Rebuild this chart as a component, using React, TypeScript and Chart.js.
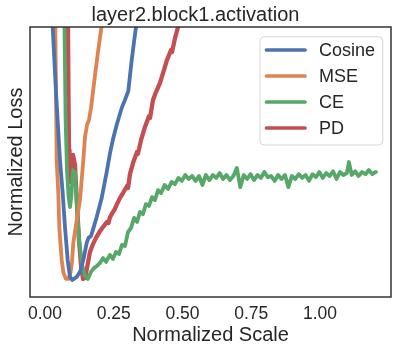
import { useEffect, useRef } from "react";
import { Chart, registerables } from "chart.js";

Chart.register(...registerables);

const chartTitle = "layer2.block1.activation";
const xAxisTitle = "Normalized Scale";
const yAxisTitle = "Normalized Loss";
const seriesNames = ["Cosine", "MSE", "CE", "PD"];
const seriesColors = ["#4C72B0", "#DD8452", "#55A868", "#C44E52"];
const xTickValues = [0, 0.25, 0.5, 0.75, 1.0];

const cosineX = [0.0036, 0.028, 0.040, 0.0545, 0.0644, 0.0727, 0.0825, 0.0909, 0.0993, 0.1153, 0.1273, 0.1393, 0.1516, 0.1582, 0.1673, 0.1764, 0.188, 0.2062, 0.2244, 0.2364, 0.2473, 0.2607, 0.2691, 0.2789, 0.2909, 0.3029, 0.3153, 0.3236, 0.3309, 0.3382];
const cosineY = [1.396, 1.0, 0.759, 0.507, 0.385, 0.259, 0.137, 0.074, 0.063, 0.074, 0.093, 0.137, 0.200, 0.219, 0.226, 0.256, 0.296, 0.367, 0.463, 0.533, 0.585, 0.637, 0.667, 0.700, 0.730, 0.763, 0.878, 0.944, 1.0, 1.070];

const mseX = [0.0345, 0.0375, 0.0425, 0.0484, 0.052, 0.0607, 0.0673, 0.0764, 0.0855, 0.0927, 0.0982, 0.1029, 0.1145, 0.1273, 0.1393, 0.1455, 0.1527, 0.160, 0.1673, 0.1745, 0.1818, 0.1927, 0.2062, 0.2145];
const mseY = [1.396, 1.007, 0.507, 0.385, 0.259, 0.137, 0.089, 0.067, 0.067, 0.089, 0.130, 0.200, 0.278, 0.359, 0.507, 0.593, 0.637, 0.656, 0.700, 0.759, 0.822, 0.907, 1.007, 1.070];

const ceX = [0.069, 0.0709, 0.075, 0.080, 0.086, 0.091, 0.096, 0.102, 0.109, 0.116, 0.124, 0.135, 0.145, 0.156, 0.167, 0.178, 0.189, 0.200, 0.211, 0.222, 0.236, 0.247, 0.258, 0.269, 0.280, 0.291, 0.302, 0.313, 0.324, 0.335, 0.345, 0.356, 0.367, 0.378, 0.389, 0.400, 0.411, 0.422, 0.435, 0.4475, 0.460, 0.4725, 0.485, 0.4975, 0.510, 0.5225, 0.535, 0.5475, 0.560, 0.5725, 0.585, 0.5975, 0.610, 0.6225, 0.635, 0.6475, 0.660, 0.6725, 0.685, 0.6975, 0.710, 0.7225, 0.735, 0.7475, 0.760, 0.7725, 0.785, 0.7975, 0.810, 0.8225, 0.835, 0.8475, 0.860, 0.8725, 0.885, 0.8975, 0.910, 0.9225, 0.935, 0.9475, 0.960, 0.9725, 0.985, 0.9975, 1.010, 1.0225, 1.035, 1.0475, 1.060, 1.0725, 1.085, 1.0975, 1.105, 1.115, 1.1275, 1.140, 1.1525, 1.165, 1.1775, 1.190, 1.203];
const ceY = [1.396, 1.0, 0.656, 0.470, 0.370, 0.333, 0.378, 0.470, 0.463, 0.341, 0.211, 0.119, 0.078, 0.067, 0.093, 0.107, 0.115, 0.126, 0.144, 0.130, 0.156, 0.141, 0.167, 0.159, 0.193, 0.189, 0.241, 0.256, 0.293, 0.278, 0.315, 0.307, 0.344, 0.337, 0.370, 0.359, 0.396, 0.385, 0.415, 0.400, 0.426, 0.418, 0.441, 0.430, 0.452, 0.437, 0.448, 0.430, 0.448, 0.415, 0.452, 0.433, 0.452, 0.441, 0.459, 0.437, 0.452, 0.433, 0.448, 0.478, 0.407, 0.452, 0.437, 0.455, 0.433, 0.452, 0.441, 0.463, 0.444, 0.448, 0.430, 0.452, 0.437, 0.452, 0.407, 0.448, 0.437, 0.455, 0.441, 0.452, 0.430, 0.455, 0.444, 0.463, 0.441, 0.459, 0.448, 0.466, 0.437, 0.463, 0.452, 0.459, 0.500, 0.452, 0.466, 0.448, 0.463, 0.455, 0.470, 0.455, 0.463];

const pdX = [0.080, 0.0836, 0.0855, 0.0873, 0.0891, 0.0945, 0.1018, 0.1091, 0.1164, 0.1236, 0.1309, 0.1382, 0.1455, 0.1527, 0.1636, 0.1745, 0.1855, 0.200, 0.2109, 0.2255, 0.231, 0.2364, 0.2473, 0.252, 0.2618, 0.2727, 0.2836, 0.2982, 0.302, 0.3091, 0.320, 0.3345, 0.338, 0.3491, 0.3636, 0.3782, 0.382, 0.3927, 0.4036, 0.4182, 0.4327, 0.4436, 0.4582, 0.462, 0.4727, 0.4836, 0.4982];
const pdY = [1.396, 1.0, 0.730, 0.544, 0.426, 0.463, 0.526, 0.489, 0.341, 0.211, 0.119, 0.067, 0.070, 0.107, 0.167, 0.196, 0.219, 0.244, 0.259, 0.278, 0.274, 0.296, 0.315, 0.322, 0.344, 0.367, 0.385, 0.411, 0.404, 0.456, 0.496, 0.537, 0.530, 0.581, 0.630, 0.670, 0.663, 0.730, 0.759, 0.793, 0.841, 0.878, 0.915, 0.907, 0.959, 1.0, 1.056];

const seriesX = [cosineX, mseX, ceX, pdX];
const seriesY = [cosineY, mseY, ceY, pdY];

const FONT = "'Liberation Sans', Arial, sans-serif";
const TEXT = "#262626";

const framePlugin = {
  id: "frame",
  afterDatasetsDraw(chart: any) {
    const { ctx, chartArea: a } = chart;
    ctx.save();
    ctx.strokeStyle = "#333333";
    ctx.lineWidth = 1.5;
    ctx.strokeRect(a.left, a.top, a.right - a.left, a.bottom - a.top);
    ctx.restore();
  },
};

const legendPlugin = {
  id: "innerLegend",
  afterDraw(chart: any) {
    const { ctx, chartArea: a } = chart;
    const w = 122.7;
    const h = 108.3;
    const x0 = a.right - 8.3 - w;
    const y0 = a.top + 9.7;
    ctx.save();
    ctx.beginPath();
    ctx.roundRect(x0, y0, w, h, 4);
    ctx.fillStyle = "rgba(255,255,255,0.8)";
    ctx.fill();
    ctx.strokeStyle = "rgba(204,204,204,0.8)";
    ctx.lineWidth = 1;
    ctx.stroke();
    ctx.font = `18px ${FONT}`;
    ctx.textBaseline = "middle";
    ctx.textAlign = "left";
    chart.data.datasets.forEach((ds: any, i: number) => {
      const y = y0 + 13.3 + i * 26;
      ctx.beginPath();
      ctx.moveTo(x0 + 6.5, y);
      ctx.lineTo(x0 + 45, y);
      ctx.strokeStyle = ds.borderColor;
      ctx.lineWidth = 3.7;
      ctx.lineCap = "round";
      ctx.stroke();
      ctx.fillStyle = TEXT;
      ctx.fillText(ds.label, x0 + 59, y + 1);
    });
    ctx.restore();
  },
};

export default function App() {
  const ref = useRef<HTMLCanvasElement>(null);
  useEffect(() => {
    Chart.defaults.font.family = FONT;
    Chart.defaults.color = TEXT;
    const datasets = seriesNames.map((name, i) => ({
      label: name,
      data: seriesX[i].map((x, j) => ({ x, y: seriesY[i][j] })),
      borderColor: seriesColors[i],
      backgroundColor: seriesColors[i],
      borderWidth: i === 3 ? 4.3 : 3.8,
      pointRadius: 0,
      tension: 0,
      borderJoinStyle: "round" as const,
      borderCapStyle: "round" as const,
      clip: 0,
    }));
    const chart = new Chart(ref.current!, {
      type: "line",
      data: { datasets },
      options: {
        responsive: false,
        animation: false,
        parsing: true,
        layout: { padding: { left: 0, right: 8, top: 0, bottom: 0 } },
        plugins: {
          legend: { display: false },
          tooltip: { enabled: false },
          title: {
            display: true,
            text: chartTitle,
            color: TEXT,
            font: { size: 20, weight: "normal", family: FONT, lineHeight: 1.2 },
            padding: { top: 3, bottom: 0 },
          },
        },
        scales: {
          x: {
            type: "linear",
            min: -0.0545,
            max: 1.258,
            grid: { display: false, drawTicks: false },
            border: { display: false },
            afterBuildTicks: (scale: any) => {
              scale.ticks = xTickValues.map((v) => ({ value: v }));
            },
            afterFit: (scale: any) => {
              scale.height = 56;
            },
            ticks: {
              color: TEXT,
              padding: 6.5,
              font: { size: 17.5, family: FONT, lineHeight: 1.2 },
              callback: (v: any) => Number(v).toFixed(2),
              maxRotation: 0,
              autoSkip: false,
            },
            title: {
              display: true,
              text: xAxisTitle,
              color: TEXT,
              font: { size: 20, family: FONT, lineHeight: 1.2 },
              padding: { top: 0, bottom: 6 },
            },
          },
          y: {
            type: "linear",
            min: 0,
            max: 1,
            grid: { display: false, drawTicks: false },
            border: { display: false },
            ticks: { display: false },
            afterFit: (scale: any) => {
              scale.width = 30;
            },
            title: {
              display: true,
              text: yAxisTitle,
              color: TEXT,
              font: { size: 20, family: FONT, lineHeight: 1.2 },
              padding: { top: 4.5, bottom: 0 },
            },
          },
        },
      },
      plugins: [framePlugin, legendPlugin],
    });
    return () => chart.destroy();
  }, []);
  return (
    <div style={{ position: "fixed", left: 0, top: 0, width: 399, height: 353, background: "#fff" }}>
      <canvas ref={ref} width={399} height={353} />
    </div>
  );
}
